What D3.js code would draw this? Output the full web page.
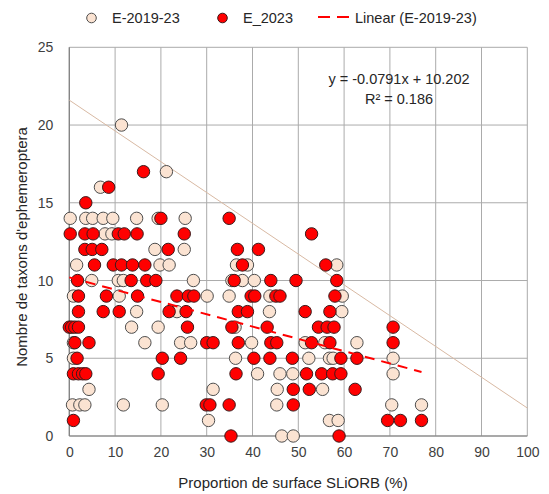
<!DOCTYPE html>
<html><head><meta charset="utf-8">
<script src="https://cdn.jsdelivr.net/npm/d3@7"></script>
<style>body{margin:0;background:#fff;} text{font-family:"Liberation Sans",Arial,sans-serif;}</style>
</head><body><svg id="c" width="549" height="494"></svg>
<script>
const xTicks = [0,10,20,30,40,50,60,70,80,90,100];
const yTicks = [0,5,10,15,20,25];
const seriesNames = ["E-2019-23","E_2023","Linear (E-2019-23)"];
// E-2019-23 points [x, y]
const e2019 = [
 [11.4,20],[21.2,17],[6.8,16],
 [0.2,14],[3.6,14],[5.1,14],[7.4,14],[9.5,14],[14.7,14],[19.4,14],[25.3,14],
 [7.8,13],[9.3,13],
 [18.7,12],[25.1,12],
 [1.6,11],[19.8,11],[21.8,11],[36.5,11],[38.9,11],[58.4,11],
 [4.9,10],[10.7,10],[11.8,10],[27.1,10],[35.5,10],[37.8,10],[40.4,10],
 [0.9,9],[10.9,9],[30.1,9],[34.9,9],[43.8,9],[59.6,9],
 [14.7,8],[23.5,8],[43.7,8],[59.5,8],
 [13.6,7],[19.4,7],[36.2,7],
 [0.9,6],[16.5,6],[24.3,6],[26.5,6],[39.8,6],[51.5,6],[55.8,6],[62.8,6],
 [0.9,5],[36.3,5],[52.3,5],[56.8,5],[57.6,5],[70.7,5],
 [41.1,4],[46.0,4],[48.8,4],[70.7,4],
 [4.3,3],[31.4,3],[45.4,3],[55.3,3],
 [0.7,2],[2.3,2],[3.4,2],[11.8,2],[20.3,2],[45.3,2],[70.4,2],[76.9,2],
 [30.4,1],[56.8,1],[58.7,1],
 [46.4,0],[48.9,0]
];
// E_2023 points [x, y]
const e2023 = [
 [16.2,17],[8.6,16],[3.6,15],
 [20.0,14],[34.9,14],
 [0.2,13],[3.4,13],[5.2,13],[10.7,13],[12.0,13],[14.8,13],[25.1,13],[52.9,13],
 [3.4,12],[5.0,12],[7.1,12],[21.6,12],[36.7,12],[41.3,12],
 [5.5,11],[9.6,11],[11.4,11],[13.8,11],[16.5,11],[37.8,11],[56.0,11],
 [1.8,10],[13.5,10],[16.9,10],[18.9,10],[36.0,10],[44.0,10],[49.5,10],[58.4,10],
 [2.0,9],[8.1,9],[14.9,9],[23.5,9],[26.0,9],[27.2,9],[39.7,9],[40.5,9],[45.1,9],[46.0,9],[58.0,9],
 [2.0,8],[7.4,8],[10.9,8],[21.8,8],[25.5,8],[36.9,8],[38.9,8],[51.5,8],[56.9,8],
 [0,7],[0.5,7],[1.2,7],[2.0,7],[25.8,7],[35.5,7],[43.2,7],[54.4,7],[56.3,7],[57.8,7],[70.7,7],
 [1.2,6],[4.3,6],[30.0,6],[31.4,6],[36.9,6],[44.0,6],[45.3,6],[52.9,6],[56.9,6],[70.7,6],
 [1.7,5],[20.3,5],[24.3,5],[40.3,5],[43.8,5],[48.7,5],[59.3,5],[62.8,5],
 [0.9,4],[2.0,4],[2.9,4],[3.6,4],[19.4,4],[36.4,4],[51.8,4],[55.1,4],[57.5,4],[59.3,4],
 [48.9,3],[52.4,3],[62.4,3],
 [29.9,2],[30.7,2],[34.9,2],[48.9,2],
 [0.9,1],[69.5,1],[72.3,1],[76.9,1],
 [35.3,0],[58.9,0]
];
// linear fit
const slope = -0.0791, intercept = 10.202;
const fitRange = [0, 76.9];
const eqLabels = ["y = -0.0791x + 10.202", "R\u00b2 = 0.186"];
// tan reference line endpoints [x, y]
const refLine = [[0,21.6],[100,1.8]];

const svg = d3.select("#c");
const L=69.3, R=527.3, T=47.3, B=436;
const x = d3.scaleLinear().domain([0,100]).range([L,R]);
const y = d3.scaleLinear().domain([0,25]).range([B,T]);
const grid = "#ababab", txt = "#404040";

// gridlines
svg.append("g").selectAll("line").data(xTicks).join("line")
  .attr("x1",d=>x(d)).attr("x2",d=>x(d)).attr("y1",T).attr("y2",B)
  .attr("stroke",grid).attr("stroke-width",1);
svg.append("g").selectAll("line").data(yTicks).join("line")
  .attr("x1",L).attr("x2",R).attr("y1",d=>y(d)).attr("y2",d=>y(d))
  .attr("stroke",grid).attr("stroke-width",1);
svg.append("line").attr("x1",L).attr("x2",R).attr("y1",B).attr("y2",B).attr("stroke","#7f7f7f").attr("stroke-width",1.2);
svg.append("line").attr("x1",L).attr("x2",L).attr("y1",T).attr("y2",B).attr("stroke","#7f7f7f").attr("stroke-width",1.2);

// axes tick labels
const xa = d3.axisBottom(x).tickValues(xTicks).tickSize(0).tickPadding(11);
svg.append("g").attr("transform",`translate(0,${B})`).call(xa)
  .call(g=>g.select(".domain").remove())
  .selectAll("text").attr("font-size",14).attr("fill",txt).style("font-family","Liberation Sans, Arial, sans-serif");
const ya = d3.axisLeft(y).tickValues(yTicks).tickSize(0).tickPadding(16);
svg.append("g").attr("transform",`translate(${L},0)`).call(ya)
  .call(g=>g.select(".domain").remove())
  .selectAll("text").attr("font-size",14).attr("fill",txt).style("font-family","Liberation Sans, Arial, sans-serif");

// reference tan line
const line = d3.line().x(d=>x(d[0])).y(d=>y(d[1]));
svg.append("path").attr("d",line(refLine)).attr("stroke","#d8b9a3").attr("stroke-width",1).attr("fill","none");

// points
const r=6.2;
svg.append("g").selectAll("circle").data(e2019).join("circle")
  .attr("cx",d=>x(d[0])).attr("cy",d=>y(d[1])).attr("r",r)
  .attr("fill","#fbe3d2").attr("stroke","#4d4d4d").attr("stroke-width",1);
svg.append("g").selectAll("circle").data(e2023).join("circle")
  .attr("cx",d=>x(d[0])).attr("cy",d=>y(d[1])).attr("r",r)
  .attr("fill","#ff0000").attr("stroke","#3a1a1a").attr("stroke-width",1);

// fit line
svg.append("path").attr("d",line(fitRange.map(v=>[v,intercept+slope*v])))
  .attr("stroke","#ff0000").attr("stroke-width",2).attr("stroke-dasharray","10,7").attr("fill","none");

// equation
svg.append("g").selectAll("text").data(eqLabels).join("text")
  .attr("x",399).attr("y",(d,i)=>84+i*20).attr("text-anchor","middle")
  .attr("font-size",14.5).attr("fill","#262626").text(d=>d);

// axis titles
svg.append("text").attr("x",293).attr("y",488).attr("text-anchor","middle")
  .attr("font-size",15).attr("fill","#262626").text("Proportion de surface SLiORB (%)");
svg.append("text").attr("transform","translate(27,247) rotate(-90)").attr("text-anchor","middle")
  .attr("font-size",15).attr("fill","#262626").text("Nombre de taxons d'ephemeroptera");

// legend
const lg = svg.append("g");
lg.append("circle").attr("cx",91.5).attr("cy",18).attr("r",4.8).attr("fill","#fbe3d2").attr("stroke","#4d4d4d");
lg.append("text").attr("x",112).attr("y",23).attr("font-size",14.5).attr("fill","#262626").text(seriesNames[0]);
lg.append("circle").attr("cx",222.5).attr("cy",18).attr("r",4.8).attr("fill","#ff0000").attr("stroke","#3a1a1a");
lg.append("text").attr("x",243).attr("y",23).attr("font-size",14.5).attr("fill","#262626").text(seriesNames[1]);
lg.append("line").attr("x1",318).attr("x2",352).attr("y1",17).attr("y2",17).attr("stroke","#ff0000").attr("stroke-width",2).attr("stroke-dasharray","12,7");
lg.append("text").attr("x",355).attr("y",23).attr("font-size",14.5).attr("fill","#262626").text(seriesNames[2]);
</script></body></html>
